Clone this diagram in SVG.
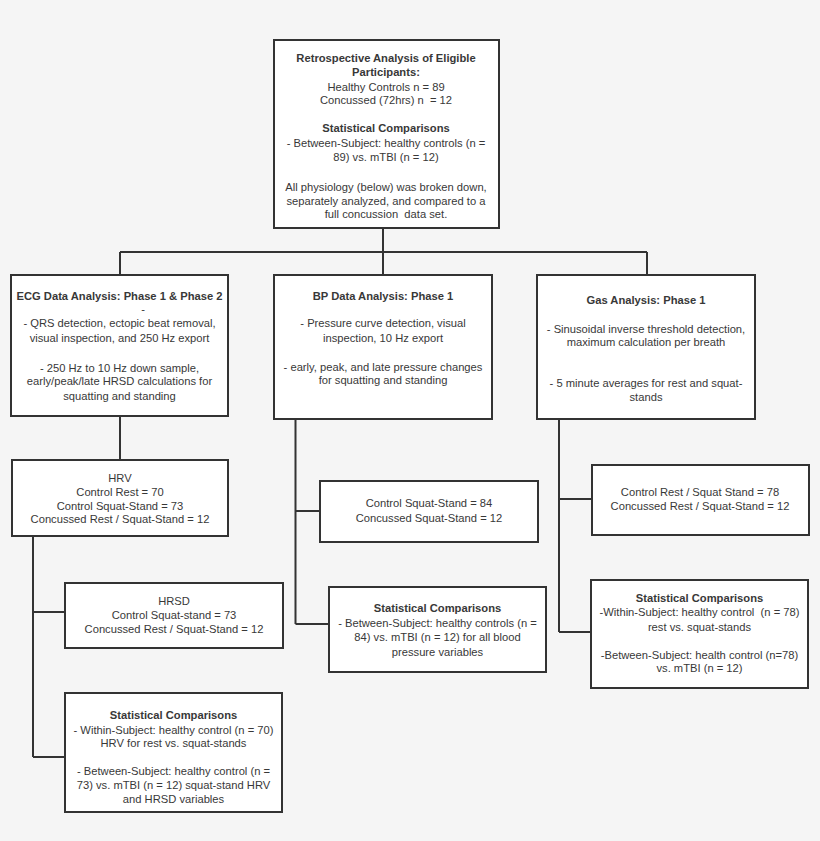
<svg xmlns="http://www.w3.org/2000/svg" width="820" height="841" viewBox="0 0 820 841">
<style>
.bg{fill:#f5f5f5}
.box{fill:#ffffff;stroke:#333333;stroke-width:2}
.ln{fill:none;stroke:#333333;stroke-width:2}
text{font-family:"Liberation Sans",Arial,sans-serif;font-size:11.2px;fill:#383838;text-anchor:middle;white-space:pre}
.b{font-weight:bold}
</style>
<rect class="bg" x="0" y="0" width="820" height="841"/>
<g id="connectors">
<path class="ln" d="M383,228 V275 M120,252 H647 M120,252 V275 M647,252 V275"/>
<path class="ln" d="M120,416 V460 M33,536 V757 M33,612 H65 M33,757 H65"/>
<path class="ln" d="M295.5,419 V624 M295.5,511 H320 M295.5,624 H329"/>
<path class="ln" d="M559,419 V632 M559,499 H592 M559,632 H591"/>
</g>
<g id="top">
<rect class="box" x="274" y="40" width="225" height="188"/>
<text class="b" x="386" y="62">Retrospective Analysis of Eligible</text>
<text class="b" x="386" y="76">Participants:</text>
<text x="386" y="91">Healthy Controls n = 89</text>
<text x="386" y="104" xml:space="preserve">Concussed (72hrs) n  = 12</text>
<text class="b" x="386" y="132">Statistical Comparisons</text>
<text x="386" y="147">- Between-Subject: healthy controls (n =</text>
<text x="386" y="161">89) vs. mTBI (n = 12)</text>
<text x="386" y="191">All physiology (below) was broken down,</text>
<text x="386" y="205">separately analyzed, and compared to a</text>
<text x="386" y="218" xml:space="preserve">full concussion  data set.</text>
</g>
<g id="ecg">
<rect class="box" x="11" y="275" width="217" height="141"/>
<text class="b" x="119.5" y="300">ECG Data Analysis: Phase 1 &amp; Phase 2</text>
<text x="143" y="313">-</text>
<text x="119.5" y="327">- QRS detection, ectopic beat removal,</text>
<text x="119.5" y="342">visual inspection, and 250 Hz export</text>
<text x="119.5" y="372">- 250 Hz to 10 Hz down sample,</text>
<text x="119.5" y="385">early/peak/late HRSD calculations for</text>
<text x="119.5" y="400">squatting and standing</text>
</g>
<g id="bp">
<rect class="box" x="274" y="275" width="218" height="144"/>
<text class="b" x="383" y="300">BP Data Analysis: Phase 1</text>
<text x="383" y="327">- Pressure curve detection, visual</text>
<text x="383" y="342">inspection, 10 Hz export</text>
<text x="383" y="371">- early, peak, and late pressure changes</text>
<text x="383" y="384">for squatting and standing</text>
</g>
<g id="gas">
<rect class="box" x="537" y="275" width="218" height="144"/>
<text class="b" x="646" y="304">Gas Analysis: Phase 1</text>
<text x="646" y="333">- Sinusoidal inverse threshold detection,</text>
<text x="646" y="346">maximum calculation per breath</text>
<text x="646" y="387">- 5 minute averages for rest and squat-</text>
<text x="646" y="401">stands</text>
</g>
<g id="hrv">
<rect class="box" x="12" y="460" width="216" height="76"/>
<text x="120" y="482">HRV</text>
<text x="120" y="496">Control Rest = 70</text>
<text x="120" y="510">Control Squat-Stand = 73</text>
<text x="120" y="523">Concussed Rest / Squat-Stand = 12</text>
</g>
<g id="hrsd">
<rect class="box" x="65" y="583" width="218" height="65"/>
<text x="174" y="605">HRSD</text>
<text x="174" y="619">Control Squat-stand = 73</text>
<text x="174" y="633">Concussed Rest / Squat-Stand = 12</text>
</g>
<g id="ecg-stats">
<rect class="box" x="65" y="693" width="217" height="119"/>
<text class="b" x="173.5" y="719">Statistical Comparisons</text>
<text x="173.5" y="734">- Within-Subject: healthy control (n = 70)</text>
<text x="173.5" y="747">HRV for rest vs. squat-stands</text>
<text x="173.5" y="775">- Between-Subject: healthy control (n =</text>
<text x="173.5" y="789">73) vs. mTBI (n = 12) squat-stand HRV</text>
<text x="173.5" y="803">and HRSD variables</text>
</g>
<g id="bp-counts">
<rect class="box" x="320" y="481" width="218" height="61"/>
<text x="429" y="507">Control Squat-Stand = 84</text>
<text x="429" y="522">Concussed Squat-Stand = 12</text>
</g>
<g id="bp-stats">
<rect class="box" x="329" y="587" width="217" height="85"/>
<text class="b" x="437.5" y="612">Statistical Comparisons</text>
<text x="437.5" y="627">- Between-Subject: healthy controls (n =</text>
<text x="437.5" y="641">84) vs. mTBI (n = 12) for all blood</text>
<text x="437.5" y="656">pressure variables</text>
</g>
<g id="gas-counts">
<rect class="box" x="592" y="465" width="217" height="70"/>
<text x="700" y="496">Control Rest / Squat Stand = 78</text>
<text x="700" y="510">Concussed Rest / Squat-Stand = 12</text>
</g>
<g id="gas-stats">
<rect class="box" x="591" y="580" width="217" height="108"/>
<text class="b" x="699.5" y="602">Statistical Comparisons</text>
<text x="699.5" y="616" xml:space="preserve">-Within-Subject: healthy control  (n = 78)</text>
<text x="699.5" y="631">rest vs. squat-stands</text>
<text x="699.5" y="659">-Between-Subject: health control (n=78)</text>
<text x="699.5" y="672">vs. mTBI (n = 12)</text>
</g>
</svg>
